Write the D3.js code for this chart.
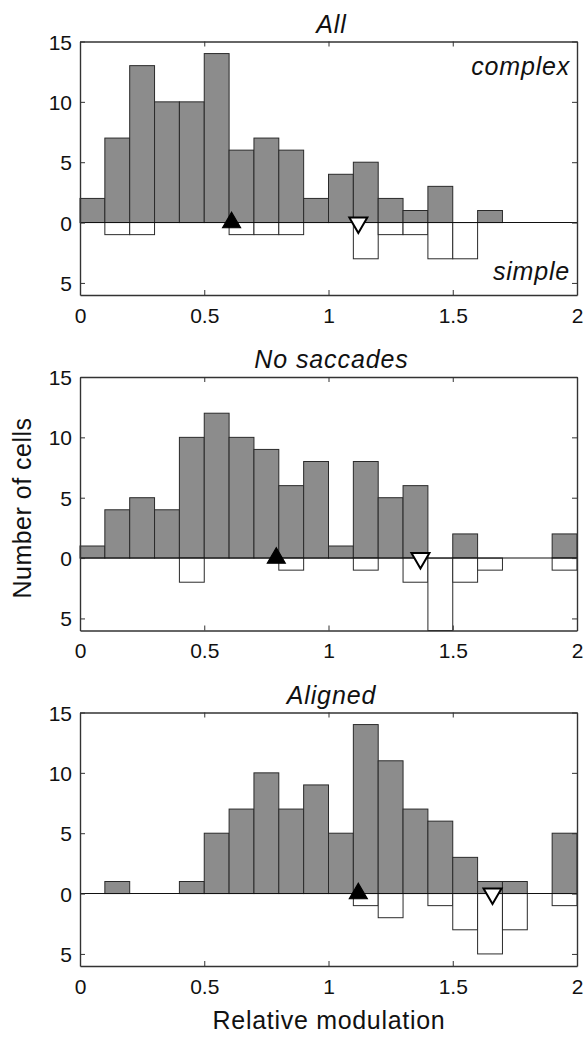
<!DOCTYPE html>
<html>
<head>
<meta charset="utf-8">
<script src="https://cdn.jsdelivr.net/npm/d3@7"></script>
<style>
  html, body { margin: 0; padding: 0; background: #fff; }
  svg { display: block; font-family: "Liberation Sans", Arial, Helvetica, sans-serif; }
</style>
</head>
<body>
<svg id="chart" width="585" height="1038"></svg>
<script>
// Histogram bins of relative modulation (left edges, width 0.1)
const binLeft = [0, 0.1, 0.2, 0.3, 0.4, 0.5, 0.6, 0.7, 0.8, 0.9,
                 1.0, 1.1, 1.2, 1.3, 1.4, 1.5, 1.6, 1.7, 1.8, 1.9];
const binWidth = 0.1;

// Cell counts per bin: complex cells (upward) and simple cells (downward)
const complexAll     = [2, 7, 13, 10, 10, 14, 6, 7, 6, 2, 4, 5, 2, 1, 3, 0, 1, 0, 0, 0];
const simpleAll      = [0, 1, 1, 0, 0, 0, 1, 1, 1, 0, 0, 3, 1, 1, 3, 3, 0, 0, 0, 0];
const complexNoSacc  = [1, 4, 5, 4, 10, 12, 10, 9, 6, 8, 1, 8, 5, 6, 0, 2, 0, 0, 0, 2];
const simpleNoSacc   = [0, 0, 0, 0, 2, 0, 0, 0, 1, 0, 0, 1, 0, 2, 6, 2, 1, 0, 0, 1];
const complexAligned = [0, 1, 0, 0, 1, 5, 7, 10, 7, 9, 5, 14, 11, 7, 6, 3, 1, 1, 0, 5];
const simpleAligned  = [0, 0, 0, 0, 0, 0, 0, 0, 0, 0, 0, 1, 2, 0, 1, 3, 5, 3, 0, 1];

// Population medians (complex: filled up-triangle, simple: open down-triangle)
const complexMedians = [0.61, 0.79, 1.12];
const simpleMedians  = [1.12, 1.37, 1.66];

const panelTitles = ["All", "No saccades", "Aligned"];
const xTicks = [0, 0.5, 1, 1.5, 2];
const xTickLabels = ["0", "0.5", "1", "1.5", "2"];
const yTicks = [15, 10, 5, 0, -5];
const yTickLabels = ["15", "10", "5", "0", "5"];

const panels = [
  { title: panelTitles[0], complex: complexAll,     simple: simpleAll,     cMed: complexMedians[0], sMed: simpleMedians[0] },
  { title: panelTitles[1], complex: complexNoSacc,  simple: simpleNoSacc,  cMed: complexMedians[1], sMed: simpleMedians[1] },
  { title: panelTitles[2], complex: complexAligned, simple: simpleAligned, cMed: complexMedians[2], sMed: simpleMedians[2] }
];

const svg = d3.select("#chart");
const left = 80, right = 577;
const panelTops = [41.5, 377, 712.5];
const panelH = 253.5;

const x = d3.scaleLinear().domain([0, 2]).range([left, right]);

const GRAY = "#8c8c8c";
const EDGE = "#2a2a2a";
const AXIS = "#333";

panels.forEach((p, i) => {
  const top = panelTops[i];
  const y = d3.scaleLinear().domain([-6, 15]).range([top + panelH, top]);
  const g = svg.append("g");

  // complex cells: gray bars above zero
  g.selectAll("rect.complex")
    .data(binLeft.map((b, k) => ({ b, v: p.complex[k] })).filter(d => d.v > 0))
    .join("rect")
    .attr("class", "complex")
    .attr("x", d => x(d.b))
    .attr("width", d => x(d.b + binWidth) - x(d.b))
    .attr("y", d => y(d.v))
    .attr("height", d => y(0) - y(d.v))
    .attr("fill", GRAY)
    .attr("stroke", EDGE)
    .attr("stroke-width", 1);

  // simple cells: open bars below zero
  g.selectAll("rect.simple")
    .data(binLeft.map((b, k) => ({ b, v: p.simple[k] })).filter(d => d.v > 0))
    .join("rect")
    .attr("class", "simple")
    .attr("x", d => x(d.b))
    .attr("width", d => x(d.b + binWidth) - x(d.b))
    .attr("y", y(0))
    .attr("height", d => y(-d.v) - y(0))
    .attr("fill", "#fff")
    .attr("stroke", EDGE)
    .attr("stroke-width", 1);

  // zero line
  g.append("line")
    .attr("x1", x(0)).attr("x2", x(2))
    .attr("y1", y(0)).attr("y2", y(0))
    .attr("stroke", "#111").attr("stroke-width", 1.1);

  // axes with inward ticks on all four sides
  const tick = 5;
  const axB = g.append("g").attr("transform", `translate(0,${y(-6)})`)
    .call(d3.axisBottom(x).tickValues(xTicks).tickSizeInner(-tick).tickSizeOuter(0)
      .tickFormat((d, k) => xTickLabels[k]).tickPadding(12));
  const axT = g.append("g").attr("transform", `translate(0,${y(15)})`)
    .call(d3.axisTop(x).tickValues(xTicks).tickSizeInner(-tick).tickSizeOuter(0).tickFormat(""));
  const axL = g.append("g").attr("transform", `translate(${x(0)},0)`)
    .call(d3.axisLeft(y).tickValues(yTicks).tickSizeInner(-tick).tickSizeOuter(0)
      .tickFormat((d, k) => yTickLabels[k]).tickPadding(12));
  const axR = g.append("g").attr("transform", `translate(${x(2)},0)`)
    .call(d3.axisRight(y).tickValues(yTicks).tickSizeInner(-tick).tickSizeOuter(0).tickFormat(""));

  [axB, axT, axL, axR].forEach(a => {
    a.select(".domain").attr("stroke", AXIS).attr("stroke-width", 1.4);
    a.selectAll(".tick line").attr("stroke", AXIS).attr("stroke-width", 1);
    a.selectAll(".tick text").attr("fill", "#111").style("font-size", "21px")
      .style("font-family", "'Liberation Sans', Arial, sans-serif");
  });
  axB.selectAll(".tick text").attr("dy", "0.71em").attr("y", 13);
  axL.selectAll(".tick text").attr("x", -8).attr("dy", "0.36em");

  // median markers, centred on the zero line
  const triSize = 140;
  g.append("path")
    .attr("d", d3.symbol().type(d3.symbolTriangle).size(triSize)())
    .attr("transform", `translate(${x(p.cMed)},${y(0)})`)
    .attr("fill", "#000").attr("stroke", "#000").attr("stroke-width", 1.2);
  g.append("path")
    .attr("d", d3.symbol().type(d3.symbolTriangle).size(triSize)())
    .attr("transform", `translate(${x(p.sMed)},${y(0)}) rotate(180)`)
    .attr("fill", "#fff").attr("stroke", "#000").attr("stroke-width", 2);

  // panel title
  g.append("text")
    .attr("x", (left + right) / 2 + 3)
    .attr("y", top - 9)
    .attr("text-anchor", "middle")
    .style("font-size", "25px").style("font-style", "italic")
    .style("letter-spacing", "0.9px")
    .attr("fill", "#111")
    .text(p.title);
});

// cell-type annotations in the first panel
svg.append("text")
  .attr("x", 570).attr("y", 75).attr("text-anchor", "end")
  .style("font-size", "25px").style("font-style", "italic").style("letter-spacing", "0.8px")
  .attr("fill", "#111")
  .text("complex");
svg.append("text")
  .attr("x", 570).attr("y", 280).attr("text-anchor", "end")
  .style("font-size", "25px").style("font-style", "italic").style("letter-spacing", "0.8px")
  .attr("fill", "#111")
  .text("simple");

// axis titles
svg.append("text")
  .attr("transform", `translate(31,${508}) rotate(-90)`)
  .attr("text-anchor", "middle")
  .style("font-size", "25px").style("letter-spacing", "0.5px").attr("fill", "#111")
  .text("Number of cells");
svg.append("text")
  .attr("x", 329).attr("y", 1029)
  .attr("text-anchor", "middle")
  .style("font-size", "25px").style("letter-spacing", "0.7px").attr("fill", "#111")
  .text("Relative modulation");
</script>
</body>
</html>
